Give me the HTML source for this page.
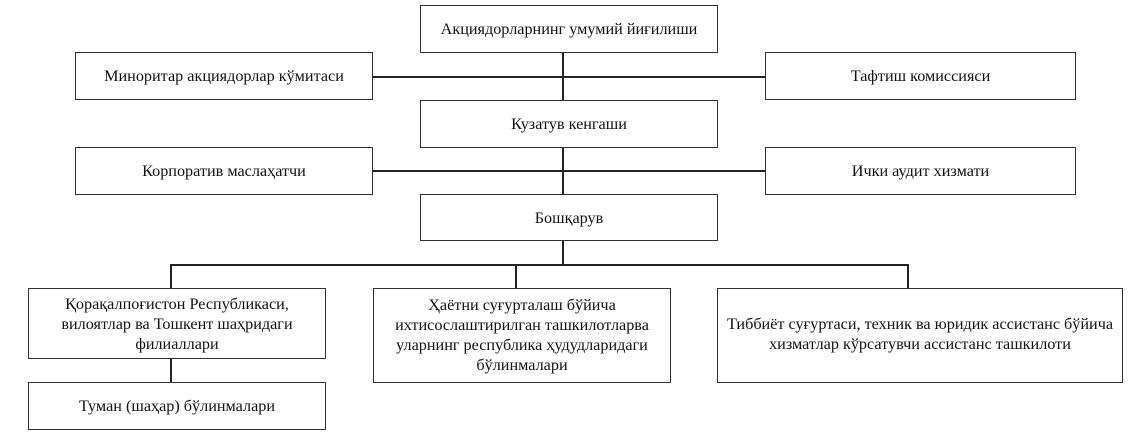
<!DOCTYPE html>
<html><head><meta charset="utf-8"><style>
body{margin:0;width:1133px;height:437px;background:#fff;position:relative;overflow:hidden;font-family:"Liberation Serif",serif;font-size:16.2px;color:#111}
.b{position:absolute;border:1.5px solid #333;box-sizing:border-box;display:flex;align-items:center;justify-content:center;text-align:center;line-height:20px;background:#fff}
.l{position:absolute;background:#222}
</style></head><body>
<div class="l" style="left:562px;top:52px;width:1.5px;height:142px"></div>
<div class="l" style="left:372px;top:76px;width:393px;height:1.5px"></div>
<div class="l" style="left:372px;top:170px;width:393px;height:1.5px"></div>
<div class="l" style="left:562px;top:240px;width:1.5px;height:24px"></div>
<div class="l" style="left:170px;top:264px;width:738px;height:1.5px"></div>
<div class="l" style="left:170px;top:264px;width:1.5px;height:24px"></div>
<div class="l" style="left:515px;top:264px;width:1.5px;height:24px"></div>
<div class="l" style="left:907px;top:264px;width:1.5px;height:24px"></div>
<div class="l" style="left:170px;top:358px;width:1.5px;height:24px"></div>

<div class="b" style="left:420px;top:5px;width:298px;height:48px">Акциядорларнинг умумий йиғилиши</div>
<div class="b" style="left:75px;top:52px;width:298px;height:48px">Миноритар акциядорлар кўмитаси</div>
<div class="b" style="left:765px;top:52px;width:311px;height:48px">Тафтиш комиссияси</div>
<div class="b" style="left:420px;top:100px;width:298px;height:48px">Кузатув кенгаши</div>
<div class="b" style="left:75px;top:147px;width:298px;height:48px">Корпоратив маслаҳатчи</div>
<div class="b" style="left:765px;top:147px;width:311px;height:48px">Ички аудит хизмати</div>
<div class="b" style="left:420px;top:194px;width:298px;height:47px;align-items:flex-start;padding-top:13px">Бошқарув</div>
<div class="b" style="left:28px;top:288px;width:298px;height:71px">Қорақалпоғистон Республикаси,<br>вилоятлар ва Тошкент шаҳридаги<br>филиаллари</div>
<div class="b" style="left:373px;top:288px;width:298px;height:95px;align-items:flex-start;padding-top:6px">Ҳаётни суғурталаш бўйича<br>ихтисослаштирилган ташкилотларва<br>уларнинг республика ҳудудларидаги<br>бўлинмалари</div>
<div class="b" style="left:717px;top:288px;width:406px;height:95px;align-items:flex-start;padding-top:25px">Тиббиёт суғуртаси, техник ва юридик ассистанс бўйича<br>хизматлар кўрсатувчи ассистанс ташкилоти</div>
<div class="b" style="left:28px;top:382px;width:298px;height:48px">Туман (шаҳар) бўлинмалари</div>
</body></html>
